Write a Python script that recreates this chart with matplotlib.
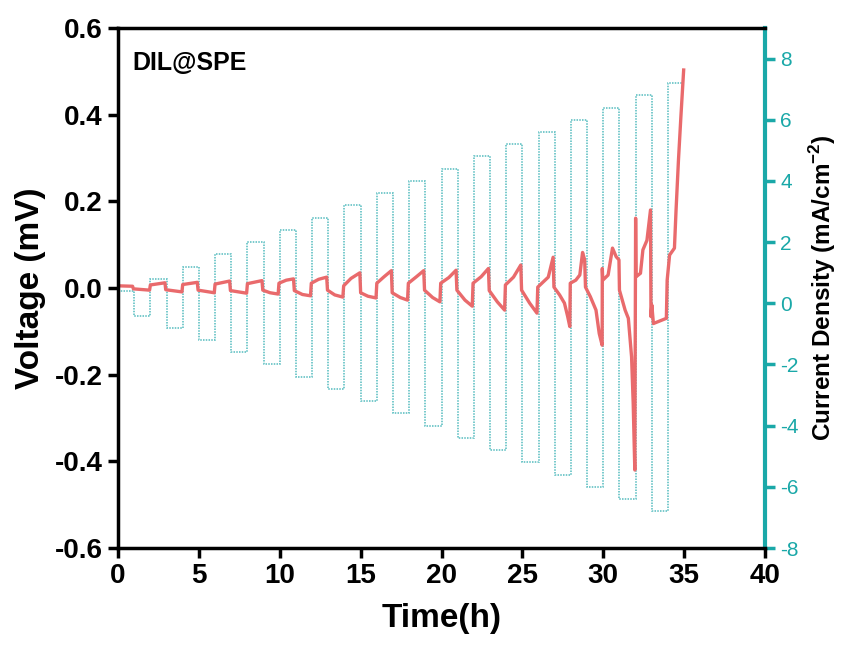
import matplotlib
matplotlib.use("Agg")
import matplotlib.pyplot as plt

plt.rcParams["font.family"] = ["Liberation Sans", "DejaVu Sans"]
plt.rcParams["mathtext.fontset"] = "custom"
plt.rcParams["mathtext.rm"] = "Liberation Sans"
plt.rcParams["mathtext.bf"] = "Liberation Sans:bold"

RED = "#e96a6c"
TEAL = "#1aa8a8"
TEAL_LINE = "#55bcbf"

# current density steps (mA/cm^-2), one value per hour
step_edges = list(range(0, 36))
current = [0.4, -0.4, 0.8, -0.8, 1.2, -1.2, 1.6, -1.6, 2.0, -2.0,
           2.4, -2.4, 2.8, -2.8, 3.2, -3.2, 3.6, -3.6, 4.0, -4.0,
           4.4, -4.4, 4.8, -4.8, 5.2, -5.2, 5.6, -5.6, 6.0, -6.0,
           6.4, -6.4, 6.8, -6.8, 7.2]

# voltage trace
time_h = [0, 0.9, 0.95, 1.95, 2.0, 2.9, 2.95, 3.95, 4.0, 4.9,
          4.95, 5.95, 6.0, 6.9, 6.95, 7.95, 8.0, 8.9,
          8.95, 9.4, 9.9, 9.95, 10.4, 10.85, 10.9, 11.4, 11.9,
          11.95, 12.4, 12.9, 12.95, 13.4, 13.9, 13.95, 14.4, 14.95,
          15.0, 15.45, 15.95, 16.0, 16.45, 16.9, 16.95, 17.45, 17.9,
          17.95, 18.45, 18.9, 18.95, 19.45, 19.9, 19.95, 20.45, 20.9,
          20.95, 21.45, 21.9, 21.95, 22.45, 22.9, 22.95, 23.45, 23.9,
          23.95, 24.45, 24.9, 24.95, 25.45, 25.9,
          25.95, 26.6, 26.9, 26.95, 27.3, 27.6, 27.8, 27.93,
          27.96, 28.3, 28.55, 28.72, 28.85, 28.9, 29.2, 29.55, 29.75, 29.93,
          29.94, 29.97, 30.3, 30.57, 30.8, 30.97, 31.0, 31.35, 31.55, 31.75,
          31.85, 31.95, 32.0, 32.03, 32.3, 32.45, 32.7, 32.92, 32.95, 33.0,
          33.1, 33.9, 33.95, 34.1, 34.4, 34.5, 34.65, 34.8, 34.97]
voltage = [0.005, 0.004, -0.002, -0.005, 0.007, 0.012, -0.004, -0.009, 0.008, 0.013,
           -0.005, -0.011, 0.009, 0.016, -0.006, -0.012, 0.010, 0.017,
           -0.005, -0.011, -0.014, 0.011, 0.018, 0.021, -0.006, -0.015, -0.018,
           0.011, 0.020, 0.025, -0.005, -0.016, -0.021, 0.005, 0.022, 0.035,
           -0.011, -0.019, -0.023, 0.011, 0.026, 0.040, -0.011, -0.022, -0.028,
           0.011, 0.026, 0.040, -0.005, -0.022, -0.032, 0.011, 0.024, 0.041,
           -0.005, -0.028, -0.042, 0.011, 0.026, 0.045, -0.006, -0.032, -0.051,
           0.007, 0.025, 0.053, -0.005, -0.035, -0.058,
           0.002, 0.025, 0.071, 0.002, -0.016, -0.035, -0.066, -0.089,
           0.011, 0.018, 0.030, 0.082, 0.065, 0.002, -0.020, -0.051, -0.105, -0.132,
           0.045, 0.018, 0.030, 0.092, 0.072, 0.065, -0.005, -0.051, -0.070, -0.159,
           -0.266, -0.420, 0.161, 0.026, 0.034, 0.088, 0.110, 0.180, -0.066, -0.039,
           -0.082, -0.070, 0.018, 0.076, 0.092, 0.180, 0.296, 0.396, 0.503]

v_ticks = [-0.6, -0.4, -0.2, 0.0, 0.2, 0.4, 0.6]
v_labels = ["-0.6", "-0.4", "-0.2", "0.0", "0.2", "0.4", "0.6"]
c_ticks = [-8, -6, -4, -2, 0, 2, 4, 6, 8]
c_labels = ["-8", "-6", "-4", "-2", "0", "2", "4", "6", "8"]
t_ticks = [0, 5, 10, 15, 20, 25, 30, 35, 40]

fig = plt.figure(figsize=(8.43, 6.46), dpi=100)
ax = fig.add_axes([0.14, 0.1517, 0.7675, 0.805])
ax2 = ax.twinx()

ax2.stairs(current, step_edges, baseline=None, color=TEAL_LINE, linewidth=1.1,
           linestyle=(0, (1, 0.8)))
ax.plot(time_h, voltage, color=RED, linewidth=2.4, solid_joinstyle="round")

ax.set_zorder(ax2.get_zorder() + 1)
ax.patch.set_visible(False)

ax.set_xlim(0, 40)
ax.set_ylim(-0.6, 0.6)
ax2.set_ylim(-8, 9)

ax.set_xticks(t_ticks)
ax.set_xticklabels([str(t) for t in t_ticks])
ax.set_yticks(v_ticks)
ax.set_yticklabels(v_labels)
ax2.set_yticks(c_ticks)
ax2.set_yticklabels(c_labels)

for lab in ax.get_xticklabels() + ax.get_yticklabels():
    lab.set_fontweight("bold")
    lab.set_fontsize(20)
ax.tick_params(axis="both", direction="out", length=7, width=2.5, pad=4)
ax2.tick_params(axis="y", direction="out", length=7, width=2.5, colors=TEAL,
                labelsize=15, pad=4)

for side in ["left", "bottom", "top"]:
    ax.spines[side].set_linewidth(2.5)
ax.spines["right"].set_visible(False)
ax2.spines["top"].set_visible(False)
ax2.spines["left"].set_visible(False)
ax2.spines["bottom"].set_visible(False)
ax2.spines["right"].set_color(TEAL)
ax2.spines["right"].set_linewidth(3)

ax.set_xlabel("Time(h)", fontsize=24, fontweight="bold", labelpad=10)
ax.set_ylabel("Voltage (mV)", fontsize=24, fontweight="bold", labelpad=6)
ax2.set_ylabel("Current Density (mA/cm$^{\\mathbf{-2}}$)", fontsize=17.5,
               fontweight="bold", labelpad=6)

ax.text(0.022, 0.955, "DIL@SPE", transform=ax.transAxes, fontsize=18,
        fontweight="bold", va="top", ha="left")

fig.savefig("out.png", dpi=100)
